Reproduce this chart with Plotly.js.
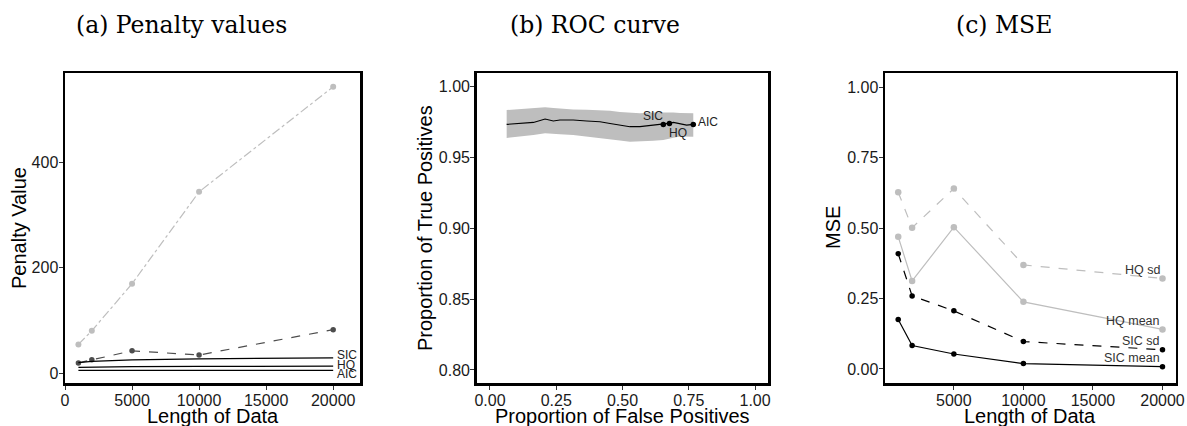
<!DOCTYPE html>
<html>
<head>
<meta charset="utf-8">
<script src="https://cdn.plot.ly/plotly-3.0.1.min.js"></script>
<style>html,body{margin:0;padding:0;background:#fff;}#chart{width:1187px;height:426px;}</style>
</head>
<body>
<div id="chart"></div>
<script>
// ---------- Panel (a): Penalty values ----------
const lenA = [1000, 2000, 5000, 10000, 20000];
const penGreyDashDot = [55, 81, 170, 344, 543];
const penDarkDash = [20, 26, 43, 35, 83];
const penSIC = [20.7, 22.8, 25.6, 27.6, 29.7];
const penHQ = [11.6, 12.2, 12.9, 13.3, 13.8];
const penAIC = [6, 6, 6, 6, 6];
const penLabels = ["SIC", "HQ", "AIC"];
const penLabelY = [35, 16, -1];
const penTicksX = [0, 5000, 10000, 15000, 20000];
const penTicksY = [0, 200, 400];

// ---------- Panel (b): ROC curve ----------
const fpr = [0.063, 0.100, 0.164, 0.208, 0.239, 0.264, 0.314, 0.365, 0.415, 0.453, 0.490, 0.528, 0.566, 0.616, 0.654, 0.673, 0.692, 0.717, 0.742, 0.767];
const tpr = [0.9734, 0.9741, 0.9748, 0.9772, 0.9758, 0.9765, 0.9765, 0.9758, 0.9753, 0.9741, 0.9729, 0.9718, 0.9718, 0.9729, 0.9734, 0.9741, 0.9748, 0.9741, 0.9729, 0.9734];
const tprUpper = [0.9835, 0.9840, 0.9848, 0.9855, 0.9850, 0.9845, 0.9840, 0.9838, 0.9835, 0.9830, 0.9822, 0.9815, 0.9812, 0.9818, 0.9820, 0.9822, 0.9818, 0.9815, 0.9812, 0.9812];
const tprLower = [0.9638, 0.9645, 0.9660, 0.9672, 0.9668, 0.9665, 0.9660, 0.9650, 0.9636, 0.9628, 0.9620, 0.9612, 0.9612, 0.9618, 0.9624, 0.9630, 0.9640, 0.9648, 0.9647, 0.9647];
const critNames = ["SIC", "HQ", "AIC"];
const critFpr = [0.654, 0.677, 0.767];
const critTpr = [0.9734, 0.9741, 0.9734];
const critLabelX = [0.614, 0.711, 0.824];
const critLabelY = [0.979, 0.9675, 0.9753];
const rocTicksX = [0, 0.25, 0.5, 0.75, 1];
const rocTickTextX = ["0.00", "0.25", "0.50", "0.75", "1.00"];
const rocTicksY = [0.80, 0.85, 0.90, 0.95, 1.00];
const rocTickTextY = ["0.80", "0.85", "0.90", "0.95", "1.00"];

// ---------- Panel (c): MSE ----------
const lenC = [1000, 2000, 5000, 10000, 20000];
const hqSd = [0.627, 0.501, 0.640, 0.369, 0.321];
const hqMean = [0.469, 0.312, 0.503, 0.238, 0.140];
const sicSd = [0.409, 0.259, 0.206, 0.097, 0.068];
const sicMean = [0.175, 0.083, 0.053, 0.019, 0.008];
const mseLabels = ["HQ sd", "HQ mean", "SIC sd", "SIC mean"];
const mseLabelY = [0.351, 0.171, 0.098, 0.040];
const mseTicksX = [5000, 10000, 15000, 20000];
const mseTicksY = [0, 0.25, 0.5, 0.75, 1];
const mseTickTextY = ["0.00", "0.25", "0.50", "0.75", "1.00"];

// text
const panelTitles = ["(a) Penalty values", "(b) ROC curve", "(c) MSE"];
const xTitles = ["Length of Data", "Proportion of False Positives", "Length of Data"];
const yTitles = ["Penalty Value", "Proportion of True Positives", "MSE"];

const GREY = "#bebebe";
const DARK = "#4d4d4d";
const SANS = "Liberation Sans, Arial, sans-serif";
const SERIF = "DejaVu Serif, serif";

const W = 1187, H = 426;
const yDom = [1 - 383/H, 1 - 73/H];
const dA = [65/W, 360/W], dB = [476.7/W, 768.3/W], dC = [885/W, 1175.7/W];

function line(x, y, color, dash, width, xa, ya, msize) {
  return {x: x, y: y, xaxis: xa, yaxis: ya, type: "scatter",
    mode: msize ? "lines+markers" : "lines",
    line: {color: color, dash: dash, width: width},
    marker: {color: color, size: msize || 0}, showlegend: false, hoverinfo: "skip"};
}

const traces = [
  line(lenA, penGreyDashDot, GREY, "dashdot", 1.2, "x", "y", 6),
  line(lenA, penDarkDash, DARK, "dash", 1.2, "x", "y", 5.5),
  line(lenA, penSIC, "#000", "solid", 1.2, "x", "y"),
  line(lenA, penHQ, "#000", "solid", 1.2, "x", "y"),
  line(lenA, penAIC, "#000", "solid", 1.2, "x", "y"),
  {x: fpr.concat(fpr.slice().reverse()), y: tprUpper.concat(tprLower.slice().reverse()),
   xaxis: "x2", yaxis: "y2", type: "scatter", mode: "lines", fill: "toself",
   fillcolor: GREY, line: {width: 0, color: GREY}, showlegend: false, hoverinfo: "skip"},
  line(fpr, tpr, "#000", "solid", 1.1, "x2", "y2"),
  {x: critFpr, y: critTpr, xaxis: "x2", yaxis: "y2", type: "scatter", mode: "markers",
   marker: {color: "#000", size: 5.5}, showlegend: false, hoverinfo: "skip"},
  line(lenC, hqSd, GREY, "dash", 1.2, "x3", "y3", 6.5),
  line(lenC, hqMean, GREY, "solid", 1.2, "x3", "y3", 6.5),
  line(lenC, sicSd, "#000", "dash", 1.2, "x3", "y3", 5.5),
  line(lenC, sicMean, "#000", "solid", 1.2, "x3", "y3", 5.5)
];

const tickFont = {family: SANS, size: 16, color: "#1a1a1a"};
function ax(domain, range, tickvals, ticktext, anchor) {
  return {domain: domain, range: range, tickvals: tickvals, ticktext: ticktext,
    anchor: anchor, showgrid: false, zeroline: false, showline: true, mirror: true,
    linecolor: "#000", linewidth: 2.5, ticks: "outside", ticklen: 4, tickwidth: 1,
    tickcolor: "#333", tickfont: tickFont, automargin: false, fixedrange: true,
    ticklabelstandoff: -3};
}

const annotations = [];
function ann(text, x, y, xref, yref, xanchor, size, color, font, angle) {
  annotations.push({text: text, x: x, y: y, xref: xref, yref: yref, xanchor: xanchor,
    yanchor: "middle", showarrow: false, textangle: angle || 0,
    font: {family: font || SANS, size: size, color: color}});
}
penLabels.forEach((t, i) => ann(t, 20150, penLabelY[i], "x", "y", "left", 12, "#222"));
critNames.forEach((t, i) => ann(t, critLabelX[i], critLabelY[i], "x2", "y2", "center", 12, "#222"));
mseLabels.forEach((t, i) => ann(t, 19950, mseLabelY[i], "x3", "y3", "right", 12.5, "#333"));

const titleCx = [181, 594.5, 1004];
panelTitles.forEach((t, i) => ann(t, titleCx[i]/W, 1 - 25/H, "paper", "paper", "center", 23.5, "#000", SERIF));
const xTitleCx = [212.5, 622.5, 1030.3];
xTitles.forEach((t, i) => ann(t, xTitleCx[i]/W, 1 - 416/H, "paper", "paper", "center", 20, "#000"));
const yTitleCx = [19, 425, 833];
yTitles.forEach((t, i) => ann(t, yTitleCx[i]/W, 1 - 228/H, "paper", "paper", "center", 20, "#000", SANS, -90));

const layout = {
  width: W, height: H, margin: {l: 0, r: 0, t: 0, b: 0},
  paper_bgcolor: "#fff", plot_bgcolor: "#fff", showlegend: false,
  xaxis: ax(dA, [0, 22000], penTicksX, penTicksX.map(String), "y"),
  yaxis: ax(yDom, [-18, 569], penTicksY, penTicksY.map(String), "x"),
  xaxis2: ax(dB, [-0.05, 1.05], rocTicksX, rocTickTextX, "y2"),
  yaxis2: ax(yDom, [0.7908, 1.0097], rocTicksY, rocTickTextY, "x2"),
  xaxis3: ax(dC, [50, 20950], mseTicksX, mseTicksX.map(String), "y3"),
  yaxis3: ax(yDom, [-0.05, 1.05], mseTicksY, mseTickTextY, "x3"),
  annotations: annotations
};

Plotly.newPlot("chart", traces, layout, {staticPlot: true, displayModeBar: false});
</script>
</body>
</html>
